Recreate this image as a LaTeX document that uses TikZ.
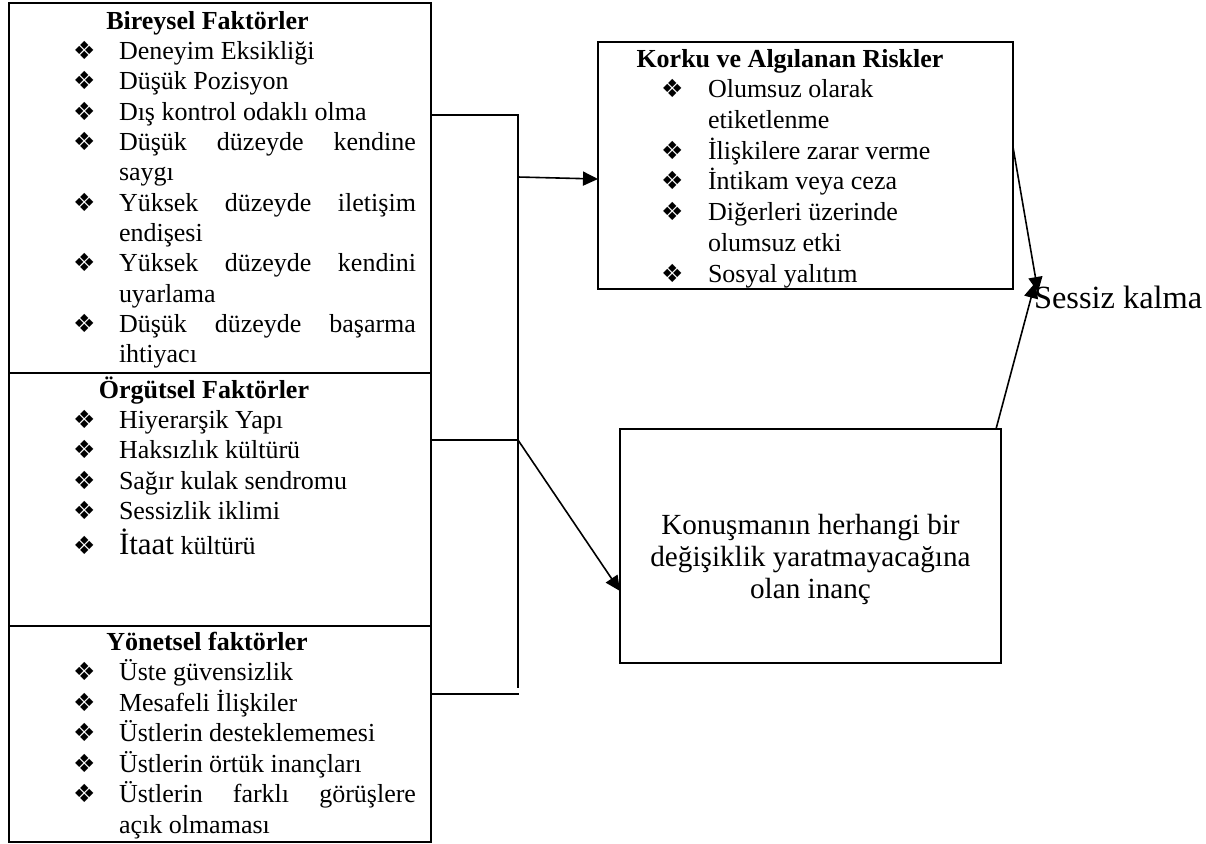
\documentclass[tikz,border=0pt]{standalone}
\usepackage{fontspec}
\setmainfont{Liberation Serif}
\newfontfamily\dejavu{DejaVu Sans}
\usetikzlibrary{arrows.meta}
\newlength\indw
\setlength\indw{22pt}
\newcommand{\bul}{\makebox[\indw][l]{\hspace*{-1pt}{\fontsize{12.5}{12}\selectfont\dejavu ❖}}}
\newcommand{\itm}[1]{\bul #1}
\newcommand{\jst}[1]{\makebox[148.5pt][s]{#1}}
\newcommand{\cnt}{\hspace*{\indw}}
\begin{document}
\begin{tikzpicture}[x=0.5pt,y=-0.5pt,
  box/.style={draw, line width=1pt, anchor=north west, inner sep=0pt, outer sep=0pt},
  txt/.style={anchor=base west, inner sep=0pt, outer sep=0pt},
  conn/.style={line width=0.8pt},
  arr/.style={line width=0.8pt, -{Triangle[length=7.5pt,width=7pt]}},
]
\useasboundingbox[fill=white] (0,0) rectangle (1206,843);

% boxes
\node[box, minimum width=211pt, minimum height=185pt] (b1) at (9,3) {};
\node[box, minimum width=211pt, minimum height=126.5pt] (b2) at (9,373) {};
\node[box, minimum width=211pt, minimum height=108pt] (b3) at (9,626) {};
\node[box, minimum width=207.5pt, minimum height=123.5pt] (korku) at (598,42) {};
\node[box, minimum width=190.5pt, minimum height=117pt] (konusma) at (620,429) {};

% texts
\node[txt] (t1) at (75,29) {\parbox[t]{170.5pt}{\fontsize{13}{15.18}\selectfont
\makebox[132.5pt][c]{\bfseries Bireysel Faktörler}\\
\itm{Deneyim Eksikliği}\\
\itm{Düşük Pozisyon}\\
\itm{Dış kontrol odaklı olma}\\
\itm{\jst{Düşük düzeyde kendine}}\\
\cnt saygı\\
\itm{\jst{Yüksek düzeyde iletişim}}\\
\cnt endişesi\\
\itm{\jst{Yüksek düzeyde kendini}}\\
\cnt uyarlama\\
\itm{\jst{Düşük düzeyde başarma}}\\
\cnt ihtiyacı}};

\node[txt] (t2) at (75,398) {\parbox[t]{170.5pt}{\fontsize{13}{15.2}\selectfont
\makebox[129pt][c]{\bfseries Örgütsel Faktörler}\\
\itm{Hiyerarşik Yapı}\\
\itm{Haksızlık kültürü}\\
\itm{Sağır kulak sendromu}\\
\itm{Sessizlik iklimi}\\[2pt]
\itm{{\fontsize{15.5}{15.2}\selectfont İtaat} kültürü}}};

\node[txt] (t3) at (75,650) {\parbox[t]{170.5pt}{\fontsize{13}{15.25}\selectfont
\makebox[132pt][c]{\bfseries Yönetsel faktörler}\\
\itm{Üste güvensizlik}\\
\itm{Mesafeli İlişkiler}\\
\itm{Üstlerin desteklememesi}\\
\itm{Üstlerin örtük inançları}\\
\itm{\jst{Üstlerin farklı görüşlere}}\\
\cnt açık olmaması}};

\node[txt] (t4) at (663,67) {\parbox[t]{170pt}{\setlength\indw{22.5pt}\fontsize{13}{15.36}\selectfont
\makebox[127pt][c]{\bfseries Korku ve Algılanan Riskler}\\
\itm{Olumsuz olarak}\\
\cnt etiketlenme\\
\itm{İlişkilere zarar verme}\\
\itm{İntikam veya ceza}\\
\itm{Diğerleri üzerinde}\\
\cnt olumsuz etki\\
\itm{Sosyal yalıtım}}};

\node[anchor=base, inner sep=0pt] (t5) at (810.5,534) {\parbox[t]{185pt}{\centering\fontsize{14.6}{16}\selectfont
Konuşmanın herhangi bir\\
değişiklik yaratmayacağına\\
olan inanç}};

\node[txt] (sessiz) at (1034,308) {\fontsize{16.2}{16}\selectfont Sessiz kalma};

% connector points
\coordinate (j1) at (518,115);
\coordinate (vend) at (518,688);
\coordinate (j2) at (518,177);
\coordinate (k1) at (598,179);
\coordinate (j3) at (518,440);
\coordinate (c1) at (620,591);
\coordinate (j4) at (519,694);
\coordinate (k2) at (1013,147);
\coordinate (s1) at (1038,292);
\coordinate (c2) at (996,429);
\coordinate (s2) at (1035,283);

\draw[conn] (b1.east |- j1) -- (j1) -- (vend);
\draw[arr] (j2) -- (korku.west |- k1);
\draw[conn] (b2.east |- j3) -- (j3);
\draw[arr] (j3) -- (konusma.west |- c1);
\draw[conn] (b3.east |- j4) -- (j4);
\draw[arr] (korku.east |- k2) -- (s1);
\draw[arr] (konusma.north -| c2) -- (s2);
\end{tikzpicture}
\end{document}
